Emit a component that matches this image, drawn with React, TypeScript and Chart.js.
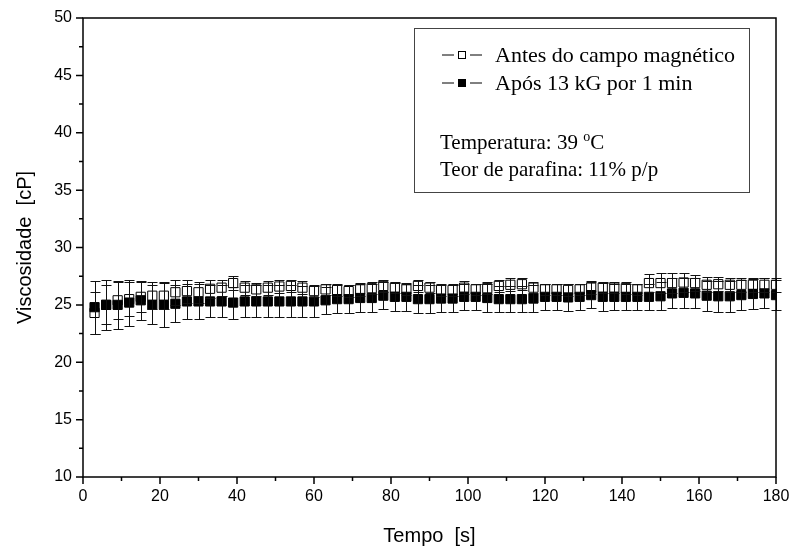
import React, { useEffect, useRef } from "react";
import { Chart, registerables } from "chart.js";

Chart.register(...registerables);

// ---- data ----
const times = [
  3, 6, 9, 12, 15, 18, 21, 24, 27, 30,
  33, 36, 39, 42, 45, 48, 51, 54, 57, 60,
  63, 66, 69, 72, 75, 78, 81, 84, 87, 90,
  93, 96, 99, 102, 105, 108, 111, 114, 117, 120,
  123, 126, 129, 132, 135, 138, 141, 144, 147, 150,
  153, 156, 159, 162, 165, 168, 171, 174, 177, 180,
];

const antes = [
  24.3, 25.0, 25.4, 25.5, 25.7, 25.8, 25.8, 26.1, 26.2, 26.1,
  26.4, 26.5, 26.9, 26.5, 26.35, 26.5, 26.6, 26.65, 26.5, 26.2,
  26.35, 26.3, 26.2, 26.35, 26.45, 26.65, 26.5, 26.35, 26.65, 26.5,
  26.3, 26.3, 26.5, 26.35, 26.45, 26.65, 26.75, 26.8, 26.5, 26.35,
  26.35, 26.3, 26.35, 26.5, 26.5, 26.5, 26.45, 26.35, 26.9, 26.9,
  26.9, 26.95, 26.9, 26.75, 26.8, 26.75, 26.75, 26.75, 26.75, 26.75,
];

const antesErr = [
  1.8, 1.7, 1.6, 1.5, 1.3, 1.2, 1.2, 1.1, 1.0, 0.9,
  0.8, 0.7, 0.6, 0.6, 0.55, 0.6, 0.55, 0.55, 0.55, 0.5,
  0.5, 0.5, 0.5, 0.55, 0.5, 0.55, 0.5, 0.5, 0.55, 0.5,
  0.5, 0.5, 0.55, 0.5, 0.5, 0.55, 0.55, 0.5, 0.5, 0.5,
  0.5, 0.5, 0.5, 0.55, 0.5, 0.5, 0.5, 0.5, 0.8, 0.85,
  0.9, 0.8, 0.7, 0.65, 0.6, 0.6, 0.6, 0.6, 0.6, 0.6,
];

const apos = [
  24.8, 25.0, 25.0, 25.2, 25.4, 25.0, 25.0, 25.1, 25.3, 25.3,
  25.3, 25.3, 25.2, 25.3, 25.3, 25.3, 25.3, 25.3, 25.3, 25.3,
  25.4, 25.5, 25.5, 25.6, 25.6, 25.8, 25.7, 25.7, 25.5, 25.5,
  25.55, 25.55, 25.7, 25.7, 25.6, 25.5, 25.5, 25.5, 25.55, 25.7,
  25.7, 25.65, 25.7, 25.85, 25.7, 25.7, 25.7, 25.7, 25.7, 25.75,
  26.0, 26.05, 26.0, 25.8, 25.75, 25.75, 25.85, 25.95, 26.0, 25.85,
];

const aposErr = [
  2.3, 2.2, 2.1, 2.0, 1.7, 1.7, 1.9, 1.6, 1.5, 1.5,
  1.4, 1.4, 1.4, 1.4, 1.4, 1.4, 1.4, 1.4, 1.35, 1.35,
  1.2, 1.2, 1.2, 1.2, 1.2, 1.2, 1.2, 1.2, 1.2, 1.2,
  1.15, 1.15, 1.15, 1.15, 1.2, 1.15, 1.15, 1.15, 1.15, 1.15,
  1.15, 1.15, 1.15, 1.15, 1.2, 1.15, 1.15, 1.15, 1.15, 1.2,
  1.3, 1.3, 1.3, 1.3, 1.35, 1.35, 1.3, 1.3, 1.3, 1.3,
];

const xTickValues = [0, 20, 40, 60, 80, 100, 120, 140, 160, 180];
const yTickValues = [10, 15, 20, 25, 30, 35, 40, 45, 50];
const xTitle = "Tempo  [s]";
const yTitle = "Viscosidade  [cP]";
const seriesLabels = ["Antes do campo magnético", "Após 13 kG por 1 min"];
const noteTemp = ["Temperatura: 39 ", "o", "C"];
const noteParafina = "Teor de parafina: 11% p/p";

const SANS = "'Liberation Sans', Arial, sans-serif";
const SERIF = "'Liberation Serif', 'Times New Roman', serif";

const errorBarPlugin = {
  id: "errorBars",
  afterDatasetsDraw(chart: any) {
    const ctx = chart.ctx;
    const xs = chart.scales.x;
    const ys = chart.scales.y;
    ctx.save();
    ctx.strokeStyle = "#111";
    ctx.lineWidth = 1;
    chart.data.datasets.forEach((ds: any) => {
      const errs: number[] = ds.errors;
      ds.data.forEach((pt: any, j: number) => {
        const x = Math.round(xs.getPixelForValue(pt.x)) + 0.5;
        const yt = Math.round(ys.getPixelForValue(pt.y + errs[j])) + 0.5;
        const yb = Math.round(ys.getPixelForValue(pt.y - errs[j])) + 0.5;
        ctx.beginPath();
        ctx.moveTo(x, yt);
        ctx.lineTo(x, yb);
        ctx.moveTo(x - 5, yt);
        ctx.lineTo(x + 5, yt);
        ctx.moveTo(x - 5, yb);
        ctx.lineTo(x + 5, yb);
        ctx.stroke();
      });
    });
    ctx.restore();
  },
};

const framePlugin = {
  id: "frame",
  afterDraw(chart: any) {
    const ctx = chart.ctx;
    const { left, right, top, bottom } = chart.chartArea;
    const xs = chart.scales.x;
    const ys = chart.scales.y;
    ctx.save();
    ctx.strokeStyle = "#000";
    ctx.lineWidth = 1.5;
    ctx.strokeRect(left, top, right - left, bottom - top);
    ctx.beginPath();
    // x ticks (major 20, minor 10)
    for (let v = 0; v <= 180; v += 10) {
      const x = xs.getPixelForValue(v);
      const len = v % 20 === 0 ? 7 : 4;
      ctx.moveTo(x, bottom);
      ctx.lineTo(x, bottom + len);
    }
    // y ticks (major 5, minor 2.5)
    for (let v = 10; v <= 50; v += 2.5) {
      const y = ys.getPixelForValue(v);
      const len = v % 5 === 0 ? 7 : 4;
      ctx.moveTo(left, y);
      ctx.lineTo(left - len, y);
    }
    ctx.stroke();

    // legend / annotation box
    const bx = right - 362;
    const by = top + 10;
    const bw = 335;
    const bh = 164;
    ctx.lineWidth = 1;
    ctx.strokeStyle = "#444";
    ctx.strokeRect(bx + 0.5, by + 0.5, bw, bh);

    ctx.font = `22px ${SERIF}`;
    ctx.fillStyle = "#000";
    ctx.textBaseline = "alphabetic";
    ctx.textAlign = "left";
    const symX = bx + 28;
    const textX = bx + 81;
    const rows = [by + 34, by + 62];
    const filled = [false, true];
    rows.forEach((base, i) => {
      const cy = base - 7.5;
      ctx.strokeStyle = "#000";
      ctx.lineWidth = 1;
      ctx.beginPath();
      ctx.moveTo(symX, cy + 0.5);
      ctx.lineTo(symX + 12, cy + 0.5);
      ctx.moveTo(symX + 28, cy + 0.5);
      ctx.lineTo(symX + 40, cy + 0.5);
      ctx.stroke();
      if (filled[i]) {
        ctx.fillStyle = "#000";
        ctx.fillRect(symX + 16, cy - 3.5, 8, 8);
      } else {
        ctx.strokeRect(symX + 16.5, cy - 3, 7, 7);
      }
      ctx.fillStyle = "#000";
      ctx.fillText(seriesLabels[i], textX, base);
    });

    const noteX = bx + 26;
    const b3 = by + 121;
    ctx.font = `21px ${SERIF}`;
    ctx.fillText(noteTemp[0], noteX, b3);
    let w = ctx.measureText(noteTemp[0]).width;
    ctx.font = `14px ${SERIF}`;
    ctx.fillText(noteTemp[1], noteX + w, b3 - 8);
    w += ctx.measureText(noteTemp[1]).width;
    ctx.font = `21px ${SERIF}`;
    ctx.fillText(noteTemp[2], noteX + w, b3);
    ctx.fillText(noteParafina, noteX, by + 148);
    ctx.restore();
  },
};

export default function App() {
  const ref = useRef<HTMLCanvasElement | null>(null);
  useEffect(() => {
    if (!ref.current) return;
    const chart = new Chart(ref.current, {
      type: "scatter",
      data: {
        datasets: [
          {
            label: seriesLabels[1],
            data: times.map((t, i) => ({ x: t, y: apos[i] })),
            errors: aposErr,
            pointStyle: "rect",
            pointRadius: 6.5,
            pointBackgroundColor: "#000",
            pointBorderColor: "#000",
            pointBorderWidth: 1,
            showLine: false,
            order: 0,
          } as any,
          {
            label: seriesLabels[0],
            data: times.map((t, i) => ({ x: t, y: antes[i] })),
            errors: antesErr,
            pointStyle: "rect",
            pointRadius: 6.5,
            pointBackgroundColor: "#fff",
            pointBorderColor: "#000",
            pointBorderWidth: 1,
            showLine: false,
            order: 1,
          } as any,
        ],
      },
      options: {
        animation: false,
        responsive: false,
        maintainAspectRatio: false,
        layout: { padding: { top: 18, right: 17, left: 0, bottom: 0 } },
        plugins: {
          legend: { display: false },
          tooltip: { enabled: false },
        },
        scales: {
          x: {
            type: "linear",
            min: 0,
            max: 180,
            afterFit: (s: any) => {
              s.height = 72;
              s.paddingLeft = 0;
              s.paddingRight = 0;
            },
            afterBuildTicks: (s: any) => {
              s.ticks = xTickValues.map((v) => ({ value: v }));
            },
            grid: { display: false, drawTicks: false },
            border: { display: false },
            ticks: {
              padding: 10,
              color: "#000",
              font: { family: SANS, size: 16 },
              maxRotation: 0,
            },
            title: {
              display: true,
              text: xTitle,
              color: "#000",
              font: { family: SANS, size: 20 },
              padding: { top: 0, bottom: 1 },
            },
          },
          y: {
            type: "linear",
            min: 10,
            max: 50,
            afterFit: (s: any) => {
              s.width = 83;
              s.paddingTop = 0;
              s.paddingBottom = 0;
            },
            afterBuildTicks: (s: any) => {
              s.ticks = yTickValues.map((v) => ({ value: v }));
            },
            grid: { display: false, drawTicks: false },
            border: { display: false },
            ticks: {
              padding: 11,
              color: "#000",
              font: { family: SANS, size: 16 },
            },
            title: {
              display: true,
              text: yTitle,
              color: "#000",
              font: { family: SANS, size: 20 },
              padding: { top: 13, bottom: 0 },
            },
          },
        },
      } as any,
      plugins: [errorBarPlugin, framePlugin],
    });
    return () => chart.destroy();
  }, []);

  return (
    <div style={{ position: "fixed", left: 0, top: 0, width: 793, height: 549, background: "#fff" }}>
      <canvas ref={ref} width={793} height={549} />
    </div>
  );
}
